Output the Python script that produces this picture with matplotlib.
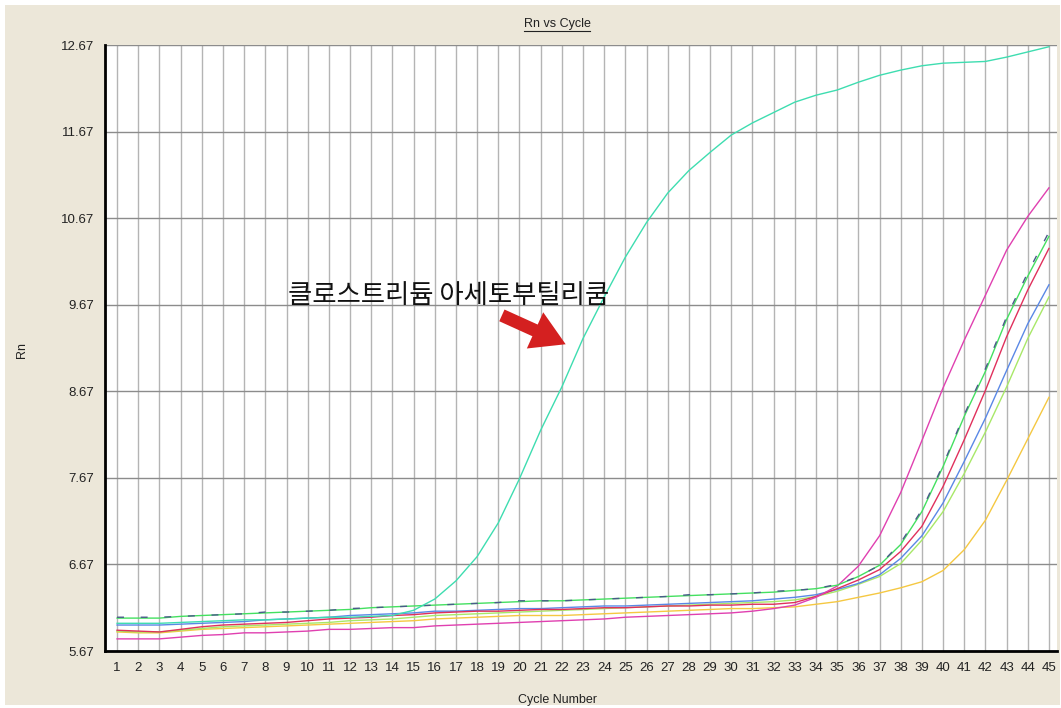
import matplotlib
matplotlib.use('Agg')
import matplotlib.pyplot as plt
from matplotlib.patches import Rectangle
from matplotlib.lines import Line2D

# 사이클 번호
cycles = list(range(1, 46))

# Rn 값
rn_clostridium = [5.99, 5.99, 5.99, 6.00, 6.01, 6.02, 6.03, 6.03, 6.04, 6.05,
                  6.06, 6.06, 6.07, 6.08, 6.14, 6.27, 6.48, 6.76, 7.15, 7.66,
                  8.22, 8.72, 9.28, 9.76, 10.22, 10.62, 10.96, 11.22, 11.43, 11.63,
                  11.77, 11.89, 12.01, 12.09, 12.15, 12.24, 12.32, 12.38, 12.43, 12.46,
                  12.47, 12.48, 12.53, 12.59, 12.65]
rn_green = [6.05, 6.05, 6.05, 6.07, 6.08, 6.09, 6.10, 6.11, 6.12, 6.13,
            6.14, 6.15, 6.17, 6.18, 6.19, 6.20, 6.21, 6.22, 6.23, 6.24,
            6.25, 6.25, 6.26, 6.27, 6.28, 6.29, 6.30, 6.31, 6.32, 6.33,
            6.34, 6.35, 6.37, 6.39, 6.43, 6.53, 6.66, 6.90, 7.28, 7.80,
            8.38, 8.90, 9.50, 10.00, 10.46]
rn_slate = [6.06, 6.06, 6.06, 6.07, 6.08, 6.09, 6.10, 6.12, 6.12, 6.13,
            6.14, 6.16, 6.17, 6.18, 6.19, 6.20, 6.21, 6.22, 6.23, 6.25,
            6.25, 6.25, 6.26, 6.27, 6.28, 6.29, 6.30, 6.32, 6.32, 6.33,
            6.34, 6.36, 6.37, 6.39, 6.44, 6.53, 6.66, 6.92, 7.30, 7.82,
            8.40, 8.93, 9.53, 10.04, 10.51]
rn_blue = [5.97, 5.97, 5.97, 5.98, 5.99, 6.00, 6.01, 6.03, 6.04, 6.05,
           6.06, 6.08, 6.09, 6.10, 6.11, 6.13, 6.13, 6.14, 6.15, 6.16,
           6.16, 6.17, 6.18, 6.19, 6.19, 6.20, 6.21, 6.22, 6.23, 6.24,
           6.25, 6.27, 6.29, 6.32, 6.38, 6.45, 6.55, 6.74, 7.00, 7.38,
           7.86, 8.36, 8.91, 9.45, 9.90]
rn_red = [5.91, 5.90, 5.89, 5.92, 5.95, 5.97, 5.98, 5.99, 6.00, 6.02,
          6.04, 6.05, 6.06, 6.08, 6.09, 6.11, 6.12, 6.13, 6.13, 6.14,
          6.15, 6.15, 6.16, 6.17, 6.17, 6.18, 6.19, 6.19, 6.20, 6.20,
          6.21, 6.21, 6.23, 6.30, 6.39, 6.49, 6.61, 6.82, 7.11, 7.57,
          8.11, 8.68, 9.30, 9.84, 10.32]
rn_lightgreen = [5.90, 5.89, 5.89, 5.91, 5.93, 5.95, 5.96, 5.97, 5.98, 5.99,
                 6.00, 6.02, 6.03, 6.04, 6.06, 6.08, 6.09, 6.10, 6.11, 6.12,
                 6.13, 6.14, 6.15, 6.16, 6.17, 6.18, 6.19, 6.20, 6.21, 6.22,
                 6.23, 6.24, 6.26, 6.30, 6.36, 6.44, 6.53, 6.68, 6.95, 7.28,
                 7.72, 8.20, 8.72, 9.28, 9.76]
rn_yellow = [5.89, 5.88, 5.88, 5.90, 5.92, 5.93, 5.94, 5.95, 5.96, 5.97,
             5.98, 5.99, 6.00, 6.01, 6.02, 6.04, 6.05, 6.06, 6.07, 6.08,
             6.08, 6.08, 6.09, 6.10, 6.11, 6.12, 6.13, 6.14, 6.15, 6.16,
             6.16, 6.17, 6.18, 6.21, 6.24, 6.29, 6.34, 6.40, 6.47, 6.60,
             6.84, 7.18, 7.64, 8.12, 8.60]
rn_magenta = [5.81, 5.81, 5.81, 5.83, 5.85, 5.86, 5.88, 5.88, 5.89, 5.90,
              5.92, 5.92, 5.93, 5.94, 5.94, 5.96, 5.97, 5.98, 5.99, 6.00,
              6.01, 6.02, 6.03, 6.04, 6.06, 6.07, 6.08, 6.09, 6.10, 6.11,
              6.13, 6.16, 6.20, 6.29, 6.42, 6.65, 7.00, 7.50, 8.10, 8.71,
              9.26, 9.78, 10.30, 10.69, 11.02]

y_ticks = [5.67, 6.67, 7.67, 8.67, 9.67, 10.67, 11.67, 12.67]

W, H = 1061, 708
fig = plt.figure(figsize=(W / 100, H / 100), dpi=100, facecolor='white')
fig.patches.append(Rectangle((5 / W, 3 / H), 1 - 6 / W, 1 - 8 / H,
                             transform=fig.transFigure, facecolor='#ECE7D9',
                             edgecolor='none', zorder=-10))

ax = fig.add_axes([105 / W, 1 - 651 / H, 952 / W, 606 / H])
ax.set_zorder(1)
ax.set_facecolor('white')

ax.plot(cycles, rn_yellow, color='#F5C842', lw=1.0)
ax.plot(cycles, rn_lightgreen, color='#A8E868', lw=1.0)
ax.plot(cycles, rn_blue, color='#5A88E6', lw=1.0)
ax.plot(cycles, rn_red, color='#E0305C', lw=1.0)
ax.plot(cycles, rn_magenta, color='#E040B0', lw=1.0)
ax.plot(cycles, rn_green, color='#44E060', lw=1.0)
ax.plot(cycles, rn_slate, color='#4A5A8A', lw=1.0, dashes=(5, 12))
ax.plot(cycles, rn_clostridium, color='#3EDDB0', lw=1.0)

ax.set_xlim(0.43, 45.38)
ax.set_ylim(5.67, 12.67)
ax.set_xticks(cycles)
ax.set_yticks(y_ticks)
ax.set_yticklabels([f'{v:.2f}' for v in y_ticks])
ax.grid(axis='x', color='#B4B4B4', lw=1.0)
ax.grid(axis='y', color='#8C8C8C', lw=1.0)
ax.set_axisbelow(True)
ax.tick_params(length=0, labelsize=9.5, colors='#222222', pad=8)
for lab in ax.get_xticklabels() + ax.get_yticklabels():
    lab.set_family('Liberation Sans')
ax.spines['top'].set_visible(False)
ax.spines['right'].set_visible(False)
ax.spines['left'].set_linewidth(2)
ax.spines['bottom'].set_linewidth(2)
ax.spines['left'].set_color('black')
ax.spines['bottom'].set_color('black')

# 주석
ax.text(16.63, 9.78, '클로스트리듐 아세토부틸리쿰', fontsize=19, ha='center',
        va='center', family=['Noto Sans CJK KR', 'DejaVu Sans'], color='#111111')
ax.annotate('', xy=(22.3, 9.2), xytext=(19.05, 9.56),
            arrowprops=dict(arrowstyle='simple,head_length=1.1,head_width=1.3,tail_width=0.42',
                            mutation_scale=22, color='#D42020', lw=0))

# 제목, 축 이름
title = fig.text(557 / W, 1 - 24 / H, 'Rn vs Cycle', ha='center', va='center',
                 fontsize=9, family='Liberation Sans', color='#222222')
fig.text(557 / W, 1 - 700 / H, 'Cycle Number', ha='center', va='center',
         fontsize=9, family='Liberation Sans', color='#222222')
fig.text(22 / W, 1 - 350 / H, 'Rn', ha='center', va='center', rotation=90,
         fontsize=9, family='Liberation Sans', color='#222222')

fig.canvas.draw()
bb = title.get_window_extent()
fig.add_artist(Line2D([bb.x0 / W, bb.x1 / W], [(bb.y0 - 1) / H, (bb.y0 - 1) / H],
                      transform=fig.transFigure, color='#222222', lw=0.8))

fig.savefig('out.png', dpi=100, facecolor=fig.get_facecolor())
